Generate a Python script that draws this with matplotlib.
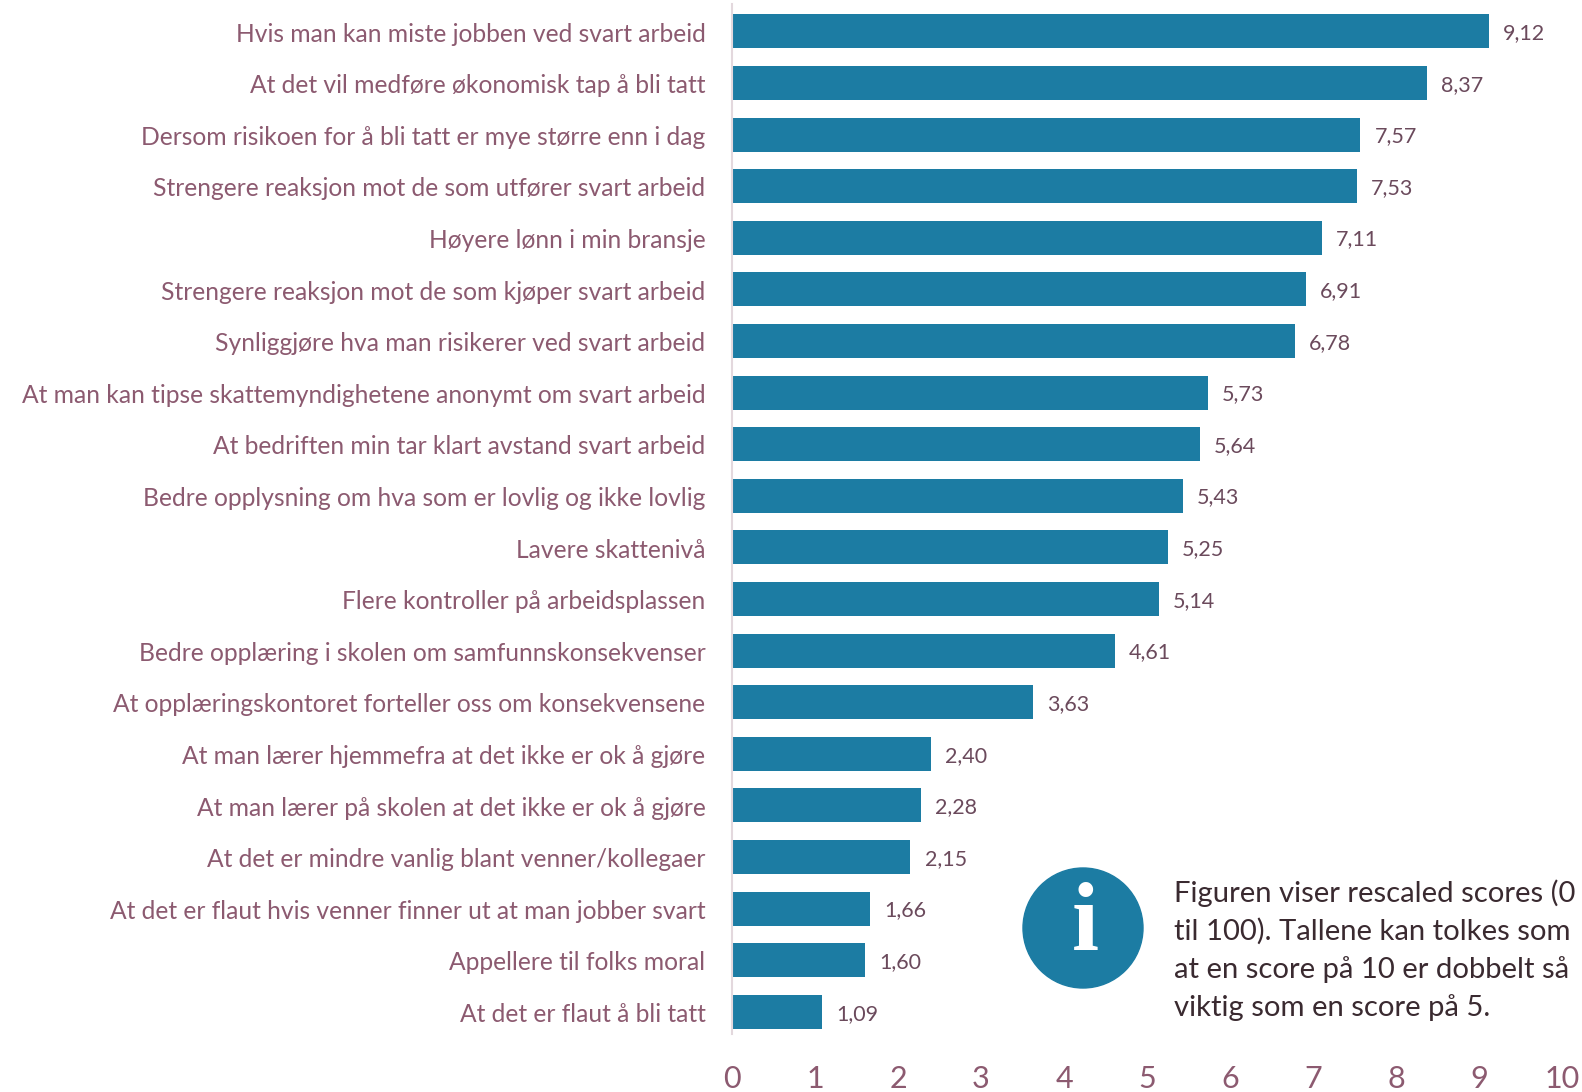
import matplotlib
matplotlib.use('Agg')
import matplotlib.pyplot as plt
from matplotlib.patches import Circle
from matplotlib.transforms import ScaledTranslation

plt.rcParams['font.family'] = ['Lato', 'DejaVu Sans']

labels = ['Hvis man kan miste jobben ved svart arbeid',
          'At det vil medføre økonomisk tap å bli tatt',
          'Dersom risikoen for å bli tatt er mye større enn i dag',
          'Strengere reaksjon mot de som utfører svart arbeid',
          'Høyere lønn i min bransje',
          'Strengere reaksjon mot de som kjøper svart arbeid',
          'Synliggjøre hva man risikerer ved svart arbeid',
          'At man kan tipse skattemyndighetene anonymt om svart arbeid',
          'At bedriften min tar klart avstand svart arbeid',
          'Bedre opplysning om hva som er lovlig og ikke lovlig',
          'Lavere skattenivå',
          'Flere kontroller på arbeidsplassen',
          'Bedre opplæring i skolen om samfunnskonsekvenser',
          'At opplæringskontoret forteller oss om konsekvensene',
          'At man lærer hjemmefra at det ikke er ok å gjøre',
          'At man lærer på skolen at det ikke er ok å gjøre',
          'At det er mindre vanlig blant venner/kollegaer',
          'At det er flaut hvis venner finner ut at man jobber svart',
          'Appellere til folks moral',
          'At det er flaut å bli tatt']
values = [9.12, 8.37, 7.57, 7.53, 7.11, 6.91, 6.78, 5.73, 5.64, 5.43,
          5.25, 5.14, 4.61, 3.63, 2.40, 2.28, 2.15, 1.66, 1.60, 1.09]
note = ['Figuren viser rescaled scores (0', 'til 100). Tallene kan tolkes som',
        'at en score på 10 er dobbelt så', 'viktig som en score på 5.']

blue = '#1c7ca3'
mauve = '#8c5a70'
dark = '#6b4a5c'

fig = plt.figure(figsize=(15.82, 10.92), dpi=100)
ax = fig.add_axes([732 / 1582, 1 - 1034 / 1092, 830 / 1582, 1030 / 1092])
y = list(range(len(values)))
ax.barh(y, values, height=0.66, color=blue)
ax.set_ylim(19.43, -0.53)
ax.set_xlim(0, 10)
ax.set_yticks(y)
ax.set_yticklabels(labels, fontsize=17.75, color=mauve)
ax.set_xticks(range(11))
ax.tick_params(axis='y', length=0, pad=19)
ax.tick_params(axis='x', length=0, pad=22.5, labelsize=22, labelcolor=mauve)
for lab in ax.get_yticklabels():
    lab.set_transform(lab.get_transform() + ScaledTranslation(0, -0.5 / 72, fig.dpi_scale_trans))
for s in ['top', 'right', 'bottom']:
    ax.spines[s].set_visible(False)
ax.spines['left'].set_color('#e3d8dd')
ax.spines['left'].set_linewidth(1.5)
for i, v in enumerate(values):
    ax.text(v + 0.17, i + 0.035, f'{v:.2f}'.replace('.', ','), va='center', fontsize=15.5, color=dark)

# info-boks nede til hoyre
icon = fig.add_axes([0, 0, 1, 1], facecolor='none')
icon.set_xlim(0, 1582)
icon.set_ylim(1092, 0)
icon.axis('off')
icon.add_patch(Circle((1083, 928), 60, color=blue))
icon.text(1085, 927, 'i', color='white', fontsize=70, fontweight='bold', family='Liberation Serif', ha='center', va='center')
for i, line in enumerate(note):
    icon.text(1174, 893 + i * 38.3, line, fontsize=21.1, color='#3a2a30', va='center')

fig.savefig('out.png', dpi=100)
